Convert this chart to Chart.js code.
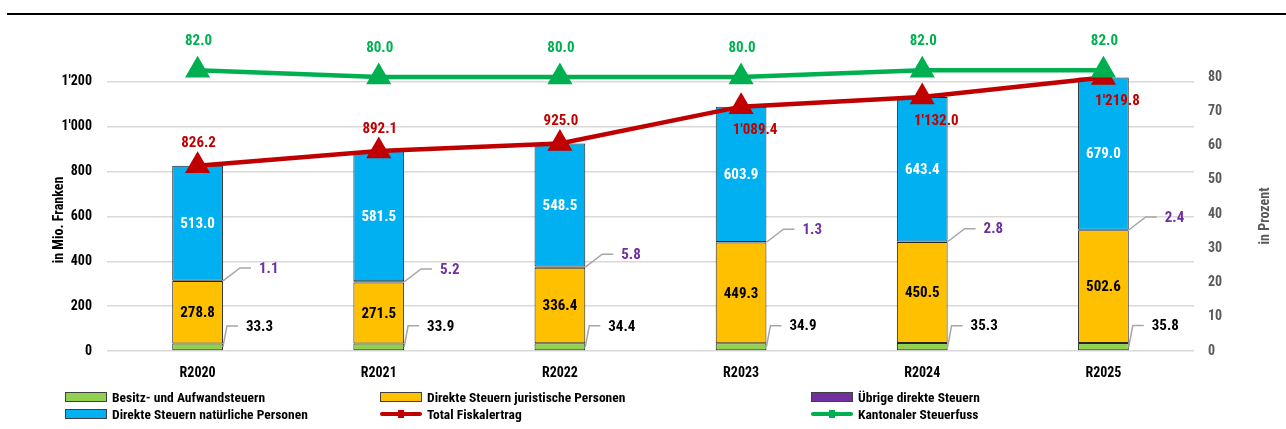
<!DOCTYPE html>
<html>
<head>
<meta charset="utf-8">
<script src="https://cdn.jsdelivr.net/npm/chart.js@4.4.1/dist/chart.umd.min.js"></script>
<style>
    body { margin: 0; background: #fff; }
    #wrap { position: relative; width: 1286px; height: 429px; }
    #topline { position: absolute; left: 7px; right: 0; top: 13px; height: 2px; background: #000; }
    #legend { position: absolute; left: 0; top: 389px; width: 1286px; height: 34px;
              font: bold 13.5px "Roboto Condensed", Roboto, sans-serif; color: #000; }
    .item { position: absolute; height: 16px; line-height: 16px; white-space: nowrap; }
    .sw { position: absolute; left: 0; top: 3px; width: 40px; height: 8px; border: 1px solid #404040; }
    .ln { position: absolute; left: 0; top: 6px; width: 42px; height: 4px; border-radius: 2px; }
    .mk { position: absolute; left: 18px; top: 4px; width: 6px; height: 8px; }
    .txt { position: absolute; left: 47px; top: 0; }
</style>
</head>
<body>
<div id="wrap">
    <div id="topline"></div>
    <canvas id="c" width="1286" height="429"></canvas>
    <div id="legend"></div>
</div>
<script>
// ============================================================
//  Data
// ============================================================

const categories = ["R2020", "R2021", "R2022", "R2023", "R2024", "R2025"];

const besitzSteuern      = [33.3, 33.9, 34.4, 34.9, 35.3, 35.8];
const juristischeSteuern = [278.8, 271.5, 336.4, 449.3, 450.5, 502.6];
const uebrigeSteuern     = [1.1, 5.2, 5.8, 1.3, 2.8, 2.4];
const natuerlicheSteuern = [513.0, 581.5, 548.5, 603.9, 643.4, 679.0];
const totalFiskalertrag  = [826.2, 892.1, 925.0, 1089.4, 1132.0, 1219.8];
const steuerfuss         = [82.0, 80.0, 80.0, 80.0, 82.0, 82.0];

const leftTicks  = [0, 200, 400, 600, 800, 1000, 1200];
const rightTicks = [0, 10, 20, 30, 40, 50, 60, 70, 80];

// ============================================================
//  Styles
// ============================================================

const COL = {
    green:  "#92D050",
    yellow: "#FFC000",
    purple: "#7030A0",
    blue:   "#00B0F0",
    red:    "#C00000",
    line:   "#00B050",
    grid:   "#D9D9D9",
    leader: "#A6A6A6",
    gray:   "#595959",
};
const FONT = "'Roboto Condensed', Roboto, sans-serif";

// Swiss number format: 1'089.4
function fmt(v) {
    const [i, d] = v.toFixed(1).split(".");
    return i.replace(/\B(?=(\d{3})+(?!\d))/g, "'") + "." + d;
}

// ============================================================
//  Plugins: value labels + axis titles
// ============================================================

const valueLabels = {
    id: "valueLabels",
    afterDatasetsDraw(chart) {
        const ctx = chart.ctx;
        ctx.save();
        ctx.font = "bold 15px " + FONT;
        ctx.textBaseline = "middle";
        const greenMeta = chart.getDatasetMeta(5);

        chart.data.datasets.forEach((ds, i) => {
            const meta = chart.getDatasetMeta(i);
            meta.data.forEach((el, j) => {
                const txt = fmt(ds.data[j]);
                ctx.fillStyle = ds.labelColor;
                if (ds.labelMode === "inside") {
                    ctx.textAlign = "center";
                    ctx.fillText(txt, el.x, (el.y + el.base) / 2 + 1);
                } else if (ds.labelMode === "leader") {
                    const right = el.x + el.width / 2;
                    const sy = (el.y + el.base) / 2;
                    const ey = sy - ds.rise;
                    ctx.strokeStyle = COL.leader;
                    ctx.lineWidth = 1.5;
                    ctx.beginPath();
                    ctx.moveTo(right, sy);
                    ctx.lineTo(right + ds.elbow, ey);
                    ctx.lineTo(right + ds.elbow + 11, ey);
                    ctx.stroke();
                    ctx.textAlign = "left";
                    ctx.fillText(txt, right + ds.elbow + 19, ey + 1);
                } else if (ds.labelMode === "line") {
                    ctx.textAlign = "center";
                    // Total labels go below when the Steuerfuss line is too close
                    const gy = greenMeta.data[j].y;
                    if (i === 4 && el.y - gy < 45) {
                        ctx.fillText(txt, el.x + 14, el.y + 24);
                    } else {
                        ctx.fillText(txt, el.x + 1, el.y - ds.above);
                    }
                }
            });
        });
        ctx.restore();
    },
};

const axisTitles = {
    id: "axisTitles",
    afterDraw(chart) {
        const ctx = chart.ctx;
        const titles = [
            { text: "in Mio. Franken", x: 59, y: 220, color: "#000" },
            { text: "in Prozent", x: 1265, y: 216, color: COL.gray },
        ];
        titles.forEach(t => {
            ctx.save();
            ctx.font = "bold 14px " + FONT;
            ctx.textAlign = "center";
            ctx.textBaseline = "middle";
            ctx.translate(t.x, t.y);
            ctx.rotate(-Math.PI / 2);
            ctx.fillStyle = t.color;
            ctx.fillText(t.text, 0, 0);
            ctx.restore();
        });
    },
};

// ============================================================
//  Chart
// ============================================================

const barCommon = {
    type: "bar",
    yAxisID: "y",
    stack: "bars",
    borderColor: "#262626",
    borderWidth: 1,
    borderSkipped: false,
    categoryPercentage: 0.56,
    barPercentage: 0.5,
    order: 1,
};

const tickFont = { family: FONT, size: 14, weight: "bold" };

const chart = new Chart(document.getElementById("c"), {
    data: {
        labels: categories,
        datasets: [
            { ...barCommon, label: "Besitz- und Aufwandsteuern", data: besitzSteuern,
              backgroundColor: COL.green, labelMode: "leader", labelColor: "#000", rise: 21, elbow: 4 },
            { ...barCommon, label: "Direkte Steuern juristische Personen", data: juristischeSteuern,
              backgroundColor: COL.yellow, labelMode: "inside", labelColor: "#000" },
            { ...barCommon, label: "Übrige direkte Steuern", data: uebrigeSteuern,
              backgroundColor: COL.purple, labelMode: "leader", labelColor: COL.purple, rise: 13, elbow: 17 },
            { ...barCommon, label: "Direkte Steuern natürliche Personen", data: natuerlicheSteuern,
              backgroundColor: COL.blue, labelMode: "inside", labelColor: "#fff" },
            {
                type: "line", label: "Total Fiskalertrag", data: totalFiskalertrag,
                yAxisID: "y", stack: "total", order: 0,
                borderColor: COL.red, backgroundColor: COL.red, borderWidth: 4.5,
                pointStyle: "triangle", pointRadius: 10, pointHoverRadius: 10,
                labelMode: "line", labelColor: COL.red, above: 22,
            },
            {
                type: "line", label: "Kantonaler Steuerfuss", data: steuerfuss,
                yAxisID: "y1", order: -1,
                borderColor: COL.line, backgroundColor: COL.line, borderWidth: 4.5,
                pointStyle: "triangle", pointRadius: 10, pointHoverRadius: 10,
                labelMode: "line", labelColor: COL.line, above: 29,
            },
        ],
    },
    options: {
        responsive: false,
        animation: false,
        layout: { padding: { top: 37, left: 0, right: 0, bottom: 0 } },
        plugins: {
            legend: { display: false },
            tooltip: { enabled: false },
        },
        scales: {
            x: {
                stacked: true,
                offset: true,
                grid: { display: false },
                border: { display: false },
                ticks: { color: "#000", font: tickFont, padding: 6 },
                afterFit: s => { s.height = 78; },
            },
            y: {
                position: "left",
                stacked: true,
                min: 0,
                max: 1400,
                afterBuildTicks: s => { s.ticks = leftTicks.map(v => ({ value: v })); },
                grid: { color: COL.grid, lineWidth: 1.5, drawTicks: false },
                border: { display: false },
                ticks: {
                    color: "#000",
                    padding: 15,
                    font: tickFont,
                    callback: v => fmt(v).replace(".0", ""),
                },
                afterFit: s => { s.width = 107; },
            },
            y1: {
                position: "right",
                min: 0,
                max: 91.7,
                afterBuildTicks: s => { s.ticks = rightTicks.map(v => ({ value: v })); },
                grid: { display: false, drawTicks: false },
                border: { display: false },
                ticks: {
                    color: COL.gray,
                    padding: 14,
                    font: tickFont,
                },
                afterFit: s => { s.width = 92; },
            },
        },
    },
    plugins: [valueLabels, axisTitles],
});

// ============================================================
//  HTML legend (three columns, two rows)
// ============================================================

const legendCols = [65, 380, 811];
const legendEl = document.getElementById("legend");
chart.data.datasets.forEach((ds, i) => {
    const item = document.createElement("div");
    item.className = "item";
    item.style.left = legendCols[i % 3] + "px";
    item.style.top = (i < 3 ? 0 : 17) + "px";
    if (ds.type === "line") {
        item.innerHTML = `<div class="ln" style="background:${ds.borderColor}"></div>` +
            `<div class="mk" style="background:${ds.borderColor}"></div>` +
            `<span class="txt">${ds.label}</span>`;
    } else {
        item.innerHTML = `<div class="sw" style="background:${ds.backgroundColor}"></div>` +
            `<span class="txt">${ds.label}</span>`;
    }
    legendEl.appendChild(item);
});
</script>
</body>
</html>
